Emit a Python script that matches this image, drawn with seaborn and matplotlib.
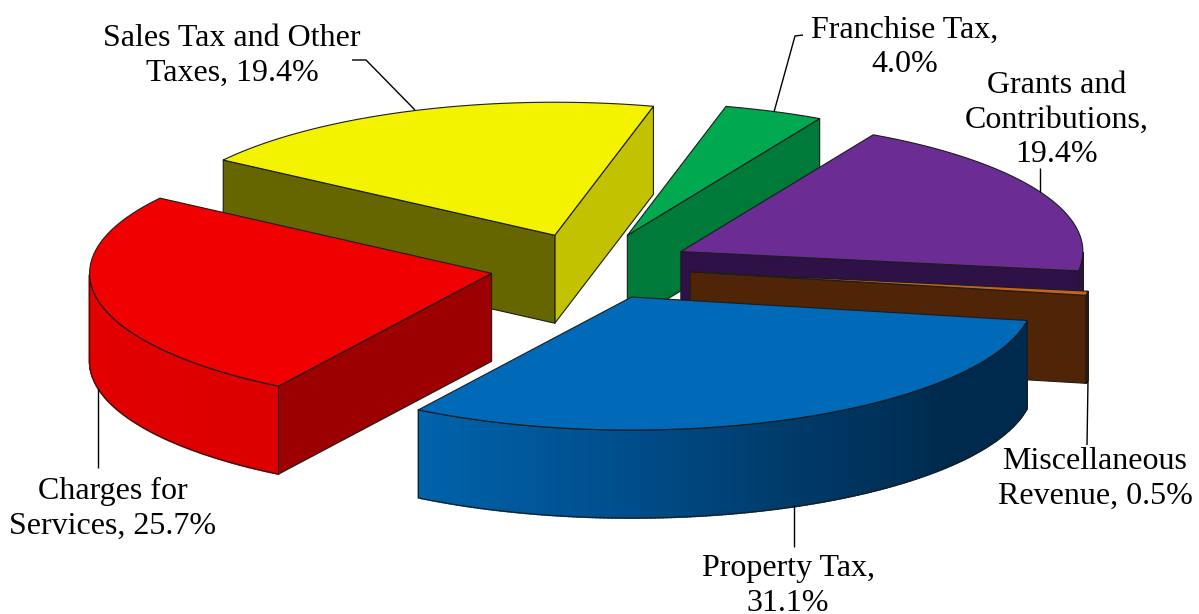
import matplotlib
matplotlib.use("Agg")
import matplotlib.pyplot as plt
from matplotlib.patches import Polygon
import numpy as np
import seaborn as sns

# data, counterclockwise from the left edge of the property tax slice
categories = ["Property Tax", "Miscellaneous Revenue", "Grants and Contributions",
              "Franchise Tax", "Sales Tax and Other Taxes", "Charges for Services"]
shares = [31.1, 0.5, 19.4, 4.0, 19.4, 25.7]
labels = ["Property Tax,\n31.1%", "Miscellaneous\nRevenue, 0.5%", "Grants and\nContributions,\n19.4%",
          "Franchise Tax,\n4.0%", "Sales Tax and Other\nTaxes, 19.4%", "Charges for\nServices, 25.7%"]

top_colors = ["#0069b8", "#c8641a", "#6b2d94", "#00a84f", "#f3f300", "#f00000"]
wall_colors = [["#0063ab", "#00508f", "#003a69", "#002a4d", "#002a4d"], ["#3a1a05", "#3a1a05"],
               ["#2e1146", "#2e1146"], ["#007a39", "#007a39"], ["#c2c200", "#c2c200"],
               ["#e40000", "#dc0000"]]
# colour of the cut faces at the first and last angle of a slice, None when hidden
start_cut = [None, "#4f2407", "#2e1146", "#007a39", "#c2c200", None]
end_cut = [None, None, None, None, "#666600", "#9c0000"]
draw_order = [4, 3, 2, 5, 1, 0]

label_pos = [(788, 586), (1095, 479), (1057, 120), (905, 47), (232, 56), (113, 509)]
leaders = [[(794, 505), (794, 547)], [(1088, 381), (1087, 445)], [(1040, 168), (1040, 192)],
           [(803, 35), (795, 36), (774, 112)], [(352, 60), (366, 60), (415, 110)],
           [(98, 388), (98, 468)]]

center_x, center_y = 590.5, 266.5
rx, ry = 402, 133
explode = 101
depth = 88
start_angle = -122

sns.set_theme(style="white")
plt.rcParams["font.family"] = ["Liberation Serif", "DejaVu Serif"]

fig = plt.figure(figsize=(11.99, 6.14), dpi=100)
ax = fig.add_axes([0, 0, 1, 1])
ax.set_xlim(0, 1199)
ax.set_ylim(614, 0)
ax.axis("off")

edge = "#1c1c1c"
spans = np.array(shares) / sum(shares) * 360
starts = start_angle + np.concatenate([[0], np.cumsum(spans)[:-1]])

for i in draw_order:
    t0, t1 = starts[i], starts[i] + spans[i]
    mid = np.radians((t0 + t1) / 2)
    ox = center_x + explode * np.cos(mid)
    oy = center_y - explode * ry / rx * np.sin(mid)
    t = np.radians(np.linspace(t0, t1, 200))
    xs = ox + rx * np.cos(t)
    ys = oy - ry * np.sin(t)

    # cut faces
    for cut, k in ((start_cut[i], 0), (end_cut[i], -1)):
        if cut:
            pts = [(ox, oy), (xs[k], ys[k]), (xs[k], ys[k] + depth), (ox, oy + depth)]
            ax.add_patch(Polygon(pts, fc=cut, ec=edge, lw=0.8, joinstyle="round"))

    # outer wall, only the front half of the rim shows
    front = np.sin(t) <= 0
    if front.sum() > 1:
        fx, fy = xs[front], ys[front]
        shades = sns.blend_palette(wall_colors[i], len(fx) - 1)
        for j, c in enumerate(shades):
            pts = [(fx[j], fy[j]), (fx[j + 1], fy[j + 1]),
                   (fx[j + 1], fy[j + 1] + depth), (fx[j], fy[j] + depth)]
            ax.add_patch(Polygon(pts, fc=c, ec=c, lw=1.2))
        outline = list(zip(fx, fy)) + list(zip(fx[::-1], fy[::-1] + depth))
        ax.add_patch(Polygon(outline, fc="none", ec=edge, lw=0.8))

    # top
    top = [(ox, oy)] + list(zip(xs, ys))
    ax.add_patch(Polygon(top, fc=top_colors[i], ec=edge, lw=0.8, joinstyle="round"))

for line in leaders:
    lx, ly = zip(*line)
    ax.plot(lx, ly, color="black", lw=1.0, solid_capstyle="butt")

for text, (tx, ty) in zip(labels, label_pos):
    ax.text(tx, ty, text, ha="center", va="center", fontsize=23, color="black", linespacing=1.24)

fig.savefig("out.png", dpi=100)
